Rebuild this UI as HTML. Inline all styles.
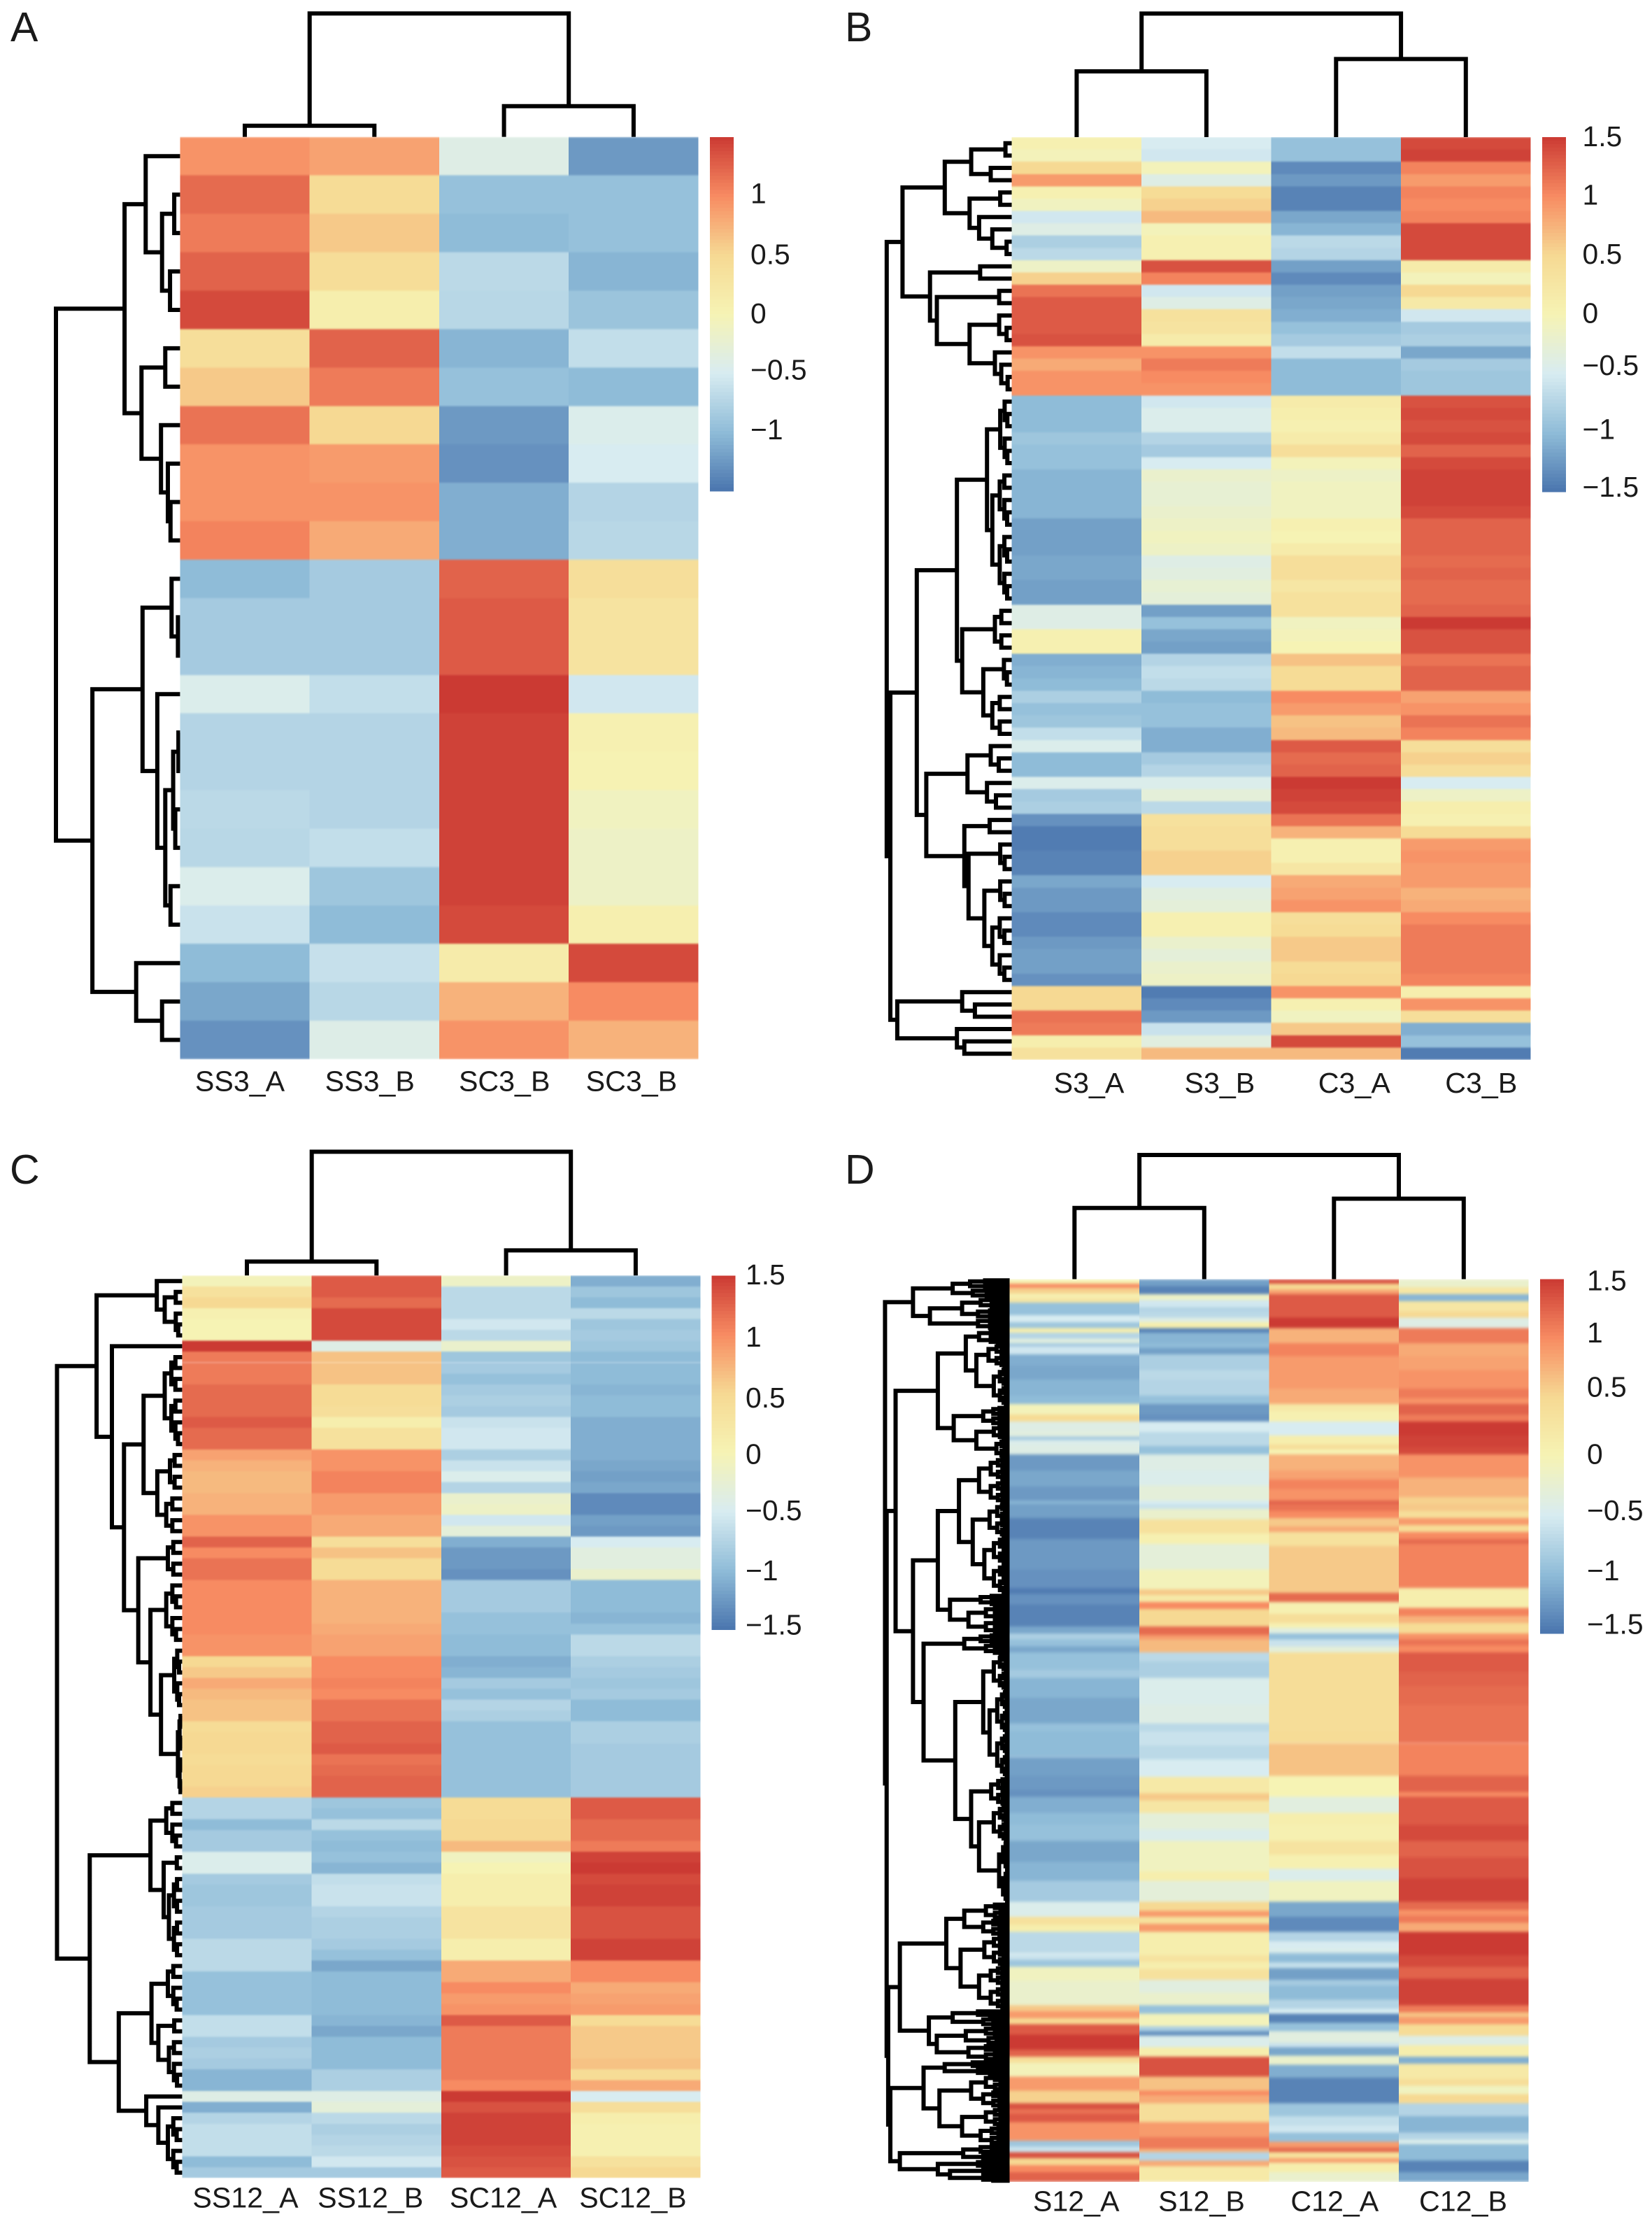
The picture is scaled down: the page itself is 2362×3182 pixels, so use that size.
<!DOCTYPE html>
<html lang="en">
<head>
<meta charset="utf-8">
<title>Four clustered expression heatmaps</title>
<style>
html,body{margin:0;padding:0;background:#fff;}
svg{display:block;}
text{font-family:"Liberation Sans",Arial,sans-serif;fill:#1a1a1a;}
</style>
</head>
<body>
<svg id="figure" xmlns="http://www.w3.org/2000/svg" width="2362" height="3182" viewBox="0 0 2362 3182">
<defs>
<filter id="softLight" x="0" y="0" width="1" height="1" color-interpolation-filters="sRGB"><feGaussianBlur stdDeviation="0 1.2"/></filter>
<filter id="softStrong" x="0" y="0" width="1" height="1" color-interpolation-filters="sRGB"><feGaussianBlur stdDeviation="0 2.2"/></filter>
</defs>
<rect x="0" y="0" width="2362" height="3182" fill="#ffffff"/>
<text x="15" y="59" font-size="59">A</text>
<text x="1208" y="59" font-size="59">B</text>
<text x="14" y="1692" font-size="59">C</text>
<text x="1208" y="1692" font-size="59">D</text>
</svg>
<script>
/* ---------- Panel A ---------- */
const aColumns = ["SS3_A","SS3_B","SC3_B","SC3_B"];
const aTicks = [1,0.5,0,-0.5,-1];
const aTickLabels = ["1","0.5","0","\u22120.5","\u22121"];
const aValues = [
[0.95,0.85,-0.4,-1.25],[1.2,0.45,-0.95,-0.95],[1.1,0.6,-1.0,-0.95],[1.25,0.42,-0.7,-1.05],
[1.4,0.1,-0.72,-0.92],[0.4,1.25,-1.05,-0.65],[0.6,1.1,-0.95,-1.0],[1.15,0.5,-1.25,-0.45],
[0.95,0.9,-1.3,-0.5],[0.95,0.95,-1.1,-0.75],[1.05,0.8,-1.1,-0.72],[-1.0,-0.85,1.25,0.4],
[-0.85,-0.85,1.3,0.3],[-0.85,-0.85,1.3,0.3],[-0.45,-0.65,1.5,-0.55],[-0.75,-0.75,1.45,0.05],
[-0.75,-0.75,1.45,0.02],[-0.7,-0.75,1.45,-0.1],[-0.72,-0.65,1.45,-0.15],[-0.45,-0.9,1.45,-0.15],
[-0.6,-1.0,1.4,0.08],[-1.0,-0.62,0.15,1.4],[-1.15,-0.72,0.75,1.0],[-1.3,-0.42,0.95,0.75]];
const aRowTree = [235,
 [105,[65,0,[34,[11,0,0],[19,0,0]]],[73,[28,0,0],[36,0,[23,0,[18,0,0]]]]],
 [166,[71,[16,0,[4,0,0]],[43,0,[28,[13,[3,0,0],[9,0,0]],[18,0,0]]]],[83,0,[34,0,0]]]];
const aColTree = [176.6,[16,0,0],[44,0,0]];

/* ---------- Panel B ---------- */
const bColumns = ["S3_A","S3_B","C3_A","C3_B"];
const bTicks = [1.5,1,0.5,0,-0.5,-1,-1.5];
const bTickLabels = ["1.5","1","0.5","0","\u22120.5","\u22121","\u22121.5"];
const bValues = [
[0.05,-0.5,-0.95,1.4],[-0.05,-0.55,-0.95,1.45],[0.5,-0.05,-1.35,1.05],[0.9,-0.4,-1.25,0.9],
[0.05,0.45,-1.4,1.05],[-0.1,0.55,-1.4,1.0],[-0.55,0.7,-1.15,1.05],[-0.4,-0.05,-1.05,1.4],
[-0.8,0.05,-0.7,1.4],[-0.7,0.05,-0.75,1.4],[-0.15,1.35,-1.2,0.15],[0.55,1.05,-1.35,-0.05],
[1.15,-0.55,-1.2,0.5],[1.3,-0.4,-1.15,0.2],[1.3,0.35,-1.1,-0.55],[1.3,0.3,-0.95,-0.85],
[1.35,0.15,-0.85,-0.8],[0.95,0.95,-0.65,-1.15],[0.8,1.1,-1.0,-0.85],[0.95,1.0,-1.0,-0.9],
[0.95,0.95,-1.0,-0.9],[-1.0,-0.55,0.15,1.35],[-1.0,-0.45,0.1,1.4],[-1.0,-0.45,0.05,1.35],
[-0.9,-0.75,0.15,1.4],[-0.95,-0.85,0.4,1.25],[-0.95,-0.5,-0.05,1.4],[-1.05,-0.2,-0.15,1.45],
[-1.05,-0.25,-0.1,1.45],[-1.05,-0.25,-0.1,1.45],[-1.05,-0.2,-0.1,1.4],[-1.2,-0.15,0.05,1.25],
[-1.2,-0.1,0.0,1.25],[-1.2,-0.15,0.15,1.25],[-1.15,-0.4,0.4,1.2],[-1.15,-0.35,0.4,1.25],
[-1.2,-0.25,0.25,1.2],[-1.2,-0.3,0.35,1.2],[-0.4,-1.2,0.35,1.25],[-0.4,-0.95,-0.1,1.5],
[0.05,-1.15,-0.05,1.35],[0.05,-1.2,0.0,1.35],[-1.1,-0.75,0.65,1.15],[-1.05,-0.65,0.45,1.25],
[-1.0,-0.7,0.45,1.25],[-0.8,-1.0,1.0,0.85],[-0.95,-0.95,0.9,0.95],[-0.9,-0.95,0.65,1.15],
[-0.65,-1.1,0.7,1.05],[-0.45,-1.1,1.3,0.4],[-1.0,-0.85,1.2,0.55],[-1.0,-0.75,1.25,0.4],
[-0.45,-0.45,1.5,-0.5],[-0.85,-0.3,1.45,-0.15],[-0.8,-0.7,1.4,0.1],[-1.3,0.35,1.15,0.05],
[-1.45,0.4,0.75,0.45],[-1.45,0.4,0.05,0.9],[-1.4,0.55,0.05,0.95],[-1.4,0.55,0.25,0.9],
[-1.15,-0.5,0.8,0.9],[-1.25,-0.35,0.85,0.75],[-1.25,-0.3,0.95,0.8],[-1.35,0.05,0.4,1.0],
[-1.35,0.05,0.45,1.1],[-1.25,-0.2,0.6,1.1],[-1.2,-0.3,0.6,1.1],[-1.2,-0.2,0.45,1.1],
[-1.3,-0.15,0.5,1.05],[0.5,-1.45,0.95,0.1],[0.5,-1.35,0.05,0.95],[1.15,-1.25,-0.1,0.4],
[1.1,-0.6,0.6,-1.1],[0.1,-0.35,1.4,-0.95],[0.35,0.7,0.7,-1.45]];
const bRowTree = [237,
 [207,
  [127,[77,[12,0,0],[40,0,0]],[80,[22,0,0],[62,0,[37,0,[10,0,0]]]]],
  [155,[60,0,0],[142,[24,0,0],[80,[24,0,[10,0,0]],[32,0,[20,0,[8,0,0]]]]]]],
 [230,
  [180,
   [104,[47,[22,6],[37,11]],[94,[32,4],[54,[15,3],[37,4]]]],
   [162,[84,[40,3],[47,0,[30,0,0]]],[90,[42,2],[82,[22,3],[52,[22,3],[37,6]]]]]],
  [217,[94,0,[70,0,0]],[104,0,[90,0,0]]]]];
const bColTree = [176.6,[94,0,0],[111.6,0,0]];

/* ---------- Panel C ---------- */
const cColumns = ["SS12_A","SS12_B","SC12_A","SC12_B"];
const cTicks = [1.5,1,0.5,0,-0.5,-1,-1.5];
const cTickLabels = ["1.5","1","0.5","0","\u22120.5","\u22121","\u22121.5"];
const cValues = [
[-0.05,1.3,-0.15,-1.1],[0.35,1.3,-0.7,-0.9],[0.5,1.2,-0.7,-1.0],[0.05,1.4,-0.7,-0.7],
[0.0,1.4,-0.55,-0.9],[0.0,1.4,-0.7,-0.85],[1.5,-0.4,-0.2,-0.9],[1.1,0.65,-0.9,-1.0],
[1.1,0.65,-0.85,-1.0],[1.1,0.65,-0.95,-1.0],[1.2,0.45,-0.85,-1.05],[1.2,0.45,-0.8,-1.0],
[1.2,0.4,-0.85,-1.0],[1.3,0.1,-0.6,-1.1],[1.2,0.35,-0.55,-1.1],[1.2,0.35,-0.55,-1.1],
[0.85,0.95,-0.8,-1.1],[0.75,0.95,-0.6,-1.15],[0.7,1.05,-0.45,-1.2],[0.7,1.05,-0.75,-1.15],
[0.75,0.9,-0.2,-1.35],[0.75,0.9,-0.15,-1.35],[0.95,0.8,-0.55,-1.2],[0.95,0.8,-0.3,-1.25],
[1.25,0.4,-1.1,-0.5],[1.0,0.65,-1.25,-0.35],[1.15,0.45,-1.25,-0.35],[1.15,0.45,-1.3,-0.2],
[1.0,0.75,-0.85,-1.0],[1.0,0.75,-0.85,-1.0],[1.0,0.75,-0.85,-1.0],[1.0,0.75,-0.95,-1.05],
[1.0,0.8,-0.95,-0.95],[0.95,0.85,-1.0,-0.7],[0.95,0.85,-1.0,-0.7],[0.5,1.0,-1.1,-0.8],
[0.6,1.0,-1.05,-0.85],[0.8,1.05,-0.85,-0.9],[0.7,1.0,-0.95,-0.85],[0.65,1.15,-0.75,-1.0],
[0.65,1.15,-0.8,-1.0],[0.45,1.25,-0.95,-0.8],[0.5,1.25,-0.95,-0.8],[0.5,1.3,-0.95,-0.85],
[0.45,1.15,-0.95,-0.85],[0.5,1.2,-0.95,-0.85],[0.5,1.25,-0.95,-0.85],[0.55,1.25,-0.95,-0.85],
[-0.75,-0.9,0.45,1.3],[-0.75,-0.95,0.45,1.3],[-1.0,-0.7,0.5,1.2],[-0.85,-0.95,0.5,1.2],
[-0.85,-1.0,0.7,1.1],[-0.45,-0.95,-0.1,1.45],[-0.45,-1.05,0.0,1.5],[-0.85,-0.65,0.1,1.4],
[-0.9,-0.6,0.1,1.45],[-0.9,-0.6,0.1,1.45],[-0.85,-0.75,0.3,1.35],[-0.85,-0.8,0.3,1.35],
[-0.85,-0.8,0.3,1.35],[-0.7,-0.85,0.1,1.45],[-0.7,-0.95,0.1,1.45],[-0.7,-1.15,0.8,1.0],
[-0.95,-1.0,0.8,1.0],[-0.95,-1.0,1.0,0.8],[-0.95,-1.0,0.9,0.85],[-0.95,-1.0,0.95,0.9],
[-0.65,-1.05,1.3,0.45],[-0.65,-1.15,1.1,0.6],[-0.85,-1.0,1.1,0.6],[-0.8,-1.0,1.1,0.6],
[-0.85,-1.0,1.1,0.65],[-1.05,-0.8,1.1,0.45],[-1.05,-0.8,1.0,0.8],[-0.4,-0.4,1.5,-0.5],
[-1.1,-0.3,1.35,0.4],[-0.75,-0.7,1.45,0.1],[-0.65,-0.8,1.45,0.05],[-0.65,-0.75,1.45,0.05],
[-0.65,-0.7,1.4,0.05],[-1.0,-0.55,1.35,0.35],[-0.85,-0.85,1.3,0.5]];
const cRowTree = [237,
 [162,
  [48,0,[33,[12,2],[12,3]]],
  [133,0,[110,[73,[33,9],[47,[23,4],[30,4]]],[83,[27,4],[60,[30,6],[40,[15,6],[8,8]]]]]]],
 [175,
  [60,[30,5],[35,[10,2],[25,8]]],
  [120,[58,[27,5],[45,[15,2],[25,5]]],[68,0,[45,0,[27,6]]]]]];
const cColTree = [177,[20,0,0],[36,0,0]];

/* ---------- Panel D (bands: [gene rows, value]) ---------- */
const dColumns = ["S12_A","S12_B","C12_A","C12_B"];
const dTicks = [1.5,1,0.5,0,-0.5,-1,-1.5];
const dTickLabels = ["1.5","1","0.5","0","\u22120.5","\u22121","\u22121.5"];
const dS12A = [[2,0],[1.8,1],[2.4,0.55],[1.8,0.05],[2,0.25],[5.5,-0.95],[3,-0.5],[2.5,-0.9],[2,0.1],[2.5,-0.75],[2,-0.35],[1.5,-0.85],[3.2,-0.55],[4.8,-1.1],[6,-1.15],[7,-1.05],[3.5,-1],[4.5,-0.05],[3,0.45],[4,-0.4],[2.5,-0.35],[1.5,-0.85],[2,-0.45],[4.2,-0.4],[6.8,-1.25],[7,-1.15],[6,-1.25],[1.5,-1.05],
[6,-1.2],[9,-1.4],[13,-1.25],[8,-1.3],[2.5,-1.45],[4.5,-1.3],[9.5,-1.4],[3,-1.15],[2.5,-0.8],[3,-0.95],[2.5,-1.15],[7.5,-0.95],[3.5,-0.85],[8.5,-1.05],[11,-1.15],[3.5,-0.95],
[11,-1],[8,-1.2],[6,-1.25],[3,-1.3],[7,-1.1],[5,-1],[7,-0.95],[9,-1.15],[8,-1.05],[9,-0.85],[6.5,-0.45],[3.5,0.35],[3,0.1],[3,-0.7],[6,-0.7],[1,-0.5],
[2,-0.6],[3,-0.9],[6,-0.1],[10.5,-0.2],[2.5,0.6],[3,0.9],[2.5,0.5],[4.5,1.3],[6.5,1.5],[3,1.25],[2.5,0.4],[6,-0.05],[6,0.9],[5.5,0.55],[2.5,1.35],[2,1.15],[3.5,1.3],[8,0.95],[2.5,-0.9],[2.5,-0.6],[2.5,1.35],[3,0.5],[3,1],[4.2,1.25]];
const dS12B = [[3,-1.2],[3.5,-1.4],[2.5,-0.15],[3,-0.55],[2,-0.75],[2.5,-0.7],[2,-0.4],[2.5,0.1],[2,-1.4],[4.5,-1.05],[2,-1],[2.7,-1.2],[6.8,-0.8],[4,-0.7],[7,-0.75],[3.5,-0.95],[4.5,-1.25],[3,-1.3],[4.5,-0.5],[6,-0.7],[3.7,-0.95],[6.8,-0.4],[6.5,-0.45],[6.5,-0.3],[1.5,-0.5],
[2,-0.6],[4.5,-0.2],[6,0.35],[4.5,0.05],[11,-0.3],[8.5,-0.05],[2.5,0.6],[3,0.2],[3,1],[7.5,0.5],[3.5,1.2],[2,0.9],[5.5,0.7],[4,-0.7],[7,-0.8],[11.5,-0.45],[8,-0.4],[3.5,-0.7],
[6,-0.6],[6,-0.7],[7.5,-0.5],[7,0.2],[3,0.6],[5.5,0.25],[7,-0.3],[5,-0.45],[13,-0.1],[4,0.1],[9,-0.3],[4,0.5],[2.5,0.9],[3,0.35],[3.5,0.9],[10,0.1],
[3,0.3],[3,0.1],[4.5,0.35],[5.5,-0.35],[5.5,-0.2],[3.5,-0.95],[5.5,-0.05],[2,-0.8],[2,-1.3],[5,-0.45],[4,0.1],[8.5,1.35],[6,0.65],[2,1],[3.5,0.8],[8,0.4],[6.5,0.9],[5,1.1],[1.5,0.75],[3.5,-0.75],[2.5,0.8],[6.7,0.2]];
const dC12A = [[2,1.35],[2.5,0.5],[2,0.85],[10,1.3],[4.5,1.5],[6.5,0.75],[5.5,1.05],[14,0.9],[6.5,0.8],[3,0.2],[4.5,0.05],[6,-0.5],[4,0.1],[2,0.4],[2.2,0],[6.8,0.75],[4,0.85],[4,1.05],[5,0.95],[1.5,1.25],
[3,1.15],[3,1],[3.5,0.6],[2.5,0.8],[6,0.35],[12,0.6],[8,0.6],[4,1.2],[5,0.05],[4,0.4],[2,0.05],[2.5,-0.35],[2.5,-0.95],[3,-0.6],[2.5,-0.3],[34,0.42],
[5,0.45],[14,0.65],[9,0],[7,-0.35],[5,0.1],[7,0.05],[6,0.3],[6,0.05],[5,-0.45],[9,-0.1],[6.5,-1.15],[6.5,-1.35],[4,-0.75],[3,-0.5],[2,-0.45],[1,-0.9],
[3,-1],[2.5,-0.65],[5,-1.2],[2.5,-0.85],[6,-1],[4,-0.75],[2,-0.5],[4,-1.4],[3.5,-0.95],[5,-0.35],[2,-0.6],[3.5,-1.15],[4,-0.2],[5.5,-1.1],[11,-1.4],[5.5,-0.9],[4,-0.65],[3,-0.55],[4,-0.95],[2.5,0.9],[2,1.2],[2.5,0.35],[2,0.85],[4,0.1],[4.2,-0.2]];
const dC12B = [[3.5,-0.2],[3,0.25],[3,-1.05],[4.5,0.25],[2.5,0.5],[4.5,-0.4],[6.5,1.1],[5.5,0.8],[6,0.85],[8,0.95],[4,1.1],[2.5,0.95],[4.5,1.25],[3,1.1],[6,1.5],[5,1.45],[3.2,1.4],[9.8,0.95],[8.5,0.75],[3,0.55],
[3,0.6],[3,0.4],[3,0.9],[3,0.45],[3,1],[2,1.2],[19,1.05],[6,0.1],[2.5,0.1],[3.5,1.05],[3,0.75],[4.5,0.45],[2.5,0.95],[2.5,1.15],[3,1],[8.5,1.3],[6,1.25],[8,1.2],[11.5,1.15],
[5,1.15],[14,1.05],[7,1.25],[2,1],[7,1.3],[5,1.3],[7,1.4],[7,1.25],[9,1.35],[10,1.45],[3.5,1.2],[2.5,0.95],[3,1.1],[4,0.8],[10,1.5],
[5,1.4],[5,1.25],[11.5,1.45],[3,1.1],[2,0.65],[3,0.9],[5,0.45],[4,-0.4],[5,0.1],[3,-1.1],[6.5,0.2],[3,0.4],[3.5,-0.1],[4,0.5],[5.5,-0.75],[7,-1.05],[3,-0.75],[2,-0.45],[7,-1],[5,-1.4],[4.2,-1.15]];
const dRowTree = [236,
 [183,[108,[75,4],[70,4]],[151,[90,[55,5],[60,4]],[60,5]]],
 [233,
  [216,
   [136,[83,[58,6],[63,[40,10],[30,17]]],[106,[50,8],[63,[30,6],[25,8]]]],
   [183,
    [136,[96,[58,20],[70,[38,14],[48,25]]],[113,[55,5],[78,[45,6],[45,6]]]],
    [163,[86,[55,4],[45,5]],[103,[50,[30,15],[38,38]],[73,[35,12],[58,[30,15],[20,27]]]]]]],
  [230,
   [208,
    [120,[86,[45,7],[50,7]],[93,[48,13],[58,19]]],
    [153,[108,[60,3],[50,4]],[138,[83,[45,4],[40,4]],[78,[45,3],[45,4]]]]],
   [226,
    [163,[123,[70,3],[60,3]],[133,[73,[45,7],[50,7]],[90,[45,8],[55,8]]]],
    [208,[88,[55,4],[50,3]],[136,[60,3],[113,[50,3],[50,3]]]]]]]];
const dColTree = [177.5,[101.7,0,0],[115,0,0]];

/* ---------- Colour scale ---------- */
const scaleStops = [-1.5,-1,-0.5,0,0.5,1,1.5];
const scaleColors = [[74,117,174],[143,188,216],[216,236,241],[246,243,180],[246,217,147],[247,139,98],[203,58,51]];

function colorOf(v){
  const c = Math.max(-1.5, Math.min(1.5, v));
  let i = 0;
  while(i < scaleStops.length - 2 && c > scaleStops[i+1]) i++;
  const t = (c - scaleStops[i]) / (scaleStops[i+1] - scaleStops[i]);
  const a = scaleColors[i], b = scaleColors[i+1];
  return 'rgb(' + [0,1,2].map(k => Math.round(a[k] + (b[k]-a[k])*t)).join(',') + ')';
}

const SVGNS = 'http://www.w3.org/2000/svg';
const root = document.getElementById('figure');

function make(tag, parent, name, props){
  const el = document.createElementNS(SVGNS, tag);
  
  
  for(const k in props) el.setAttribute(k, props[k]);
  parent.appendChild(el);
  return el;
}

function expand(node){
  if(node === 0) return 0;
  if(node.length === 2) return balanced(node[0], node[1]);
  return [node[0], expand(node[1]), expand(node[2])];
}
function balanced(h, n){
  if(n <= 1) return 0;
  const l = n >> 1;
  return [h, balanced(h*0.62, l), balanced(h*0.62, n - l)];
}
function leafCount(node){
  return node === 0 ? 1 : leafCount(node[1]) + leafCount(node[2]);
}

/* Lays out a tree; depth(h) maps a merge height to a pixel, cross(i) maps a leaf slot to a pixel */
function treePath(tree, depth, cross, horizontal){
  let idx = 0, d = '';
  (function walk(n){
    if(n === 0){ const p = {c: cross(idx + 0.5), h: 0}; idx++; return p; }
    const a = walk(n[1]), b = walk(n[2]);
    const dn = depth(n[0]);
    if(horizontal){
      d += 'M' + depth(a.h).toFixed(1) + ' ' + a.c.toFixed(1) + 'H' + dn.toFixed(1) + 'V' + b.c.toFixed(1) + 'H' + depth(b.h).toFixed(1);
    } else {
      d += 'M' + a.c.toFixed(1) + ' ' + depth(a.h).toFixed(1) + 'V' + dn.toFixed(1) + 'H' + b.c.toFixed(1) + 'V' + depth(b.h).toFixed(1);
    }
    return {c: (a.c + b.c)/2, h: n[0]};
  })(tree);
  return d;
}

function drawPanel(p){
  const g = make('g', root, 'panel-' + p.id, {});
  const colW = (p.right - p.left) / 4, H = p.bottom - p.top;
  const xOf = j => p.left + j * colW;

  /* dendrograms */
  const rowTree = expand(p.rowTree), colTree = expand(p.colTree);
  const nRows = leafCount(rowTree);
  make('path', g, 'row-dendrogram-' + p.id, {
    d: treePath(rowTree, h => p.left - h*0.755, i => p.top + i/nRows*H, true),
    fill:'none', stroke:'#000', 'stroke-width':6, 'stroke-linejoin':'miter'
  });
  make('path', g, 'column-dendrogram-' + p.id, {
    d: treePath(colTree, h => p.top - h, i => p.left + i*colW, false),
    fill:'none', stroke:'#000', 'stroke-width':6, 'stroke-linejoin':'miter'
  });

  /* heat cells */
  const heat = make('g', g, 'heatmap-' + p.id, {'shape-rendering':'crispEdges', filter: p.values ? 'url(#softLight)' : 'url(#softStrong)'});
  if(p.values){
    const band = H / p.values.length;
    p.values.forEach((row, i) => row.forEach((v, j) => {
      make('rect', heat, 'heat-cell', {
        x: xOf(j).toFixed(2), y: (p.top + i*band).toFixed(2),
        width: colW.toFixed(2), height: band.toFixed(2), fill: colorOf(v)
      });
    }));
  } else {
    p.bands.forEach((col, j) => {
      const total = col.reduce((s, b) => s + b[0], 0);
      let cum = 0;
      col.forEach(b => {
        const y0 = p.top + cum/total*H;
        cum += b[0];
        const y1 = p.top + cum/total*H;
        make('rect', heat, 'heat-band', {
          x: xOf(j).toFixed(2), y: y0.toFixed(2),
          width: colW.toFixed(2), height: (y1-y0).toFixed(2), fill: colorOf(b[1])
        });
      });
    });
  }

  /* column labels */
  p.columns.forEach((name, j) => {
    const t = make('text', g, 'column-label', {
      x: (xOf(j + 0.5) + p.labelNudge[j]).toFixed(1), y: p.labelY,
      'text-anchor':'middle', 'font-size':41.2
    });
    t.textContent = name;
  });

  /* colour bar */
  const bar = make('g', g, 'colorbar-' + p.id, {'shape-rendering':'crispEdges'});
  const barH = p.barBottom - p.top, steps = 100;
  for(let s = 0; s < steps; s++){
    make('rect', bar, 'colorbar-step', {
      x: p.barX, y: (p.top + s/steps*barH).toFixed(2), width: p.barW,
      height: (barH/steps + 0.6).toFixed(2), fill: colorOf(1.5 - (s + 0.5)/steps*3)
    });
  }
  p.ticks.forEach((v, i) => {
    const y = p.top + (1.5 - v)/3*barH + p.tickNudge[i];
    const t = make('text', g, 'colorbar-tick-label', {
      x: p.tickX, y: (y + 12).toFixed(1), 'font-size':40.8
    });
    t.textContent = p.tickLabels[i];
  });
}

drawPanel({id:'a', left:257.4, right:998.5, top:195.8, bottom:1514, values:aValues, rowTree:aRowTree, colTree:aColTree,
  columns:aColumns, labelNudge:[-7,-6.5,0.6,-3], labelY:1559.7, barX:1015, barW:34, barBottom:702, tickX:1073,
  ticks:aTicks, tickLabels:aTickLabels, tickNudge:[-1.5,1,1,-3,-1.5]});
drawPanel({id:'b', left:1446.7, right:2188.5, top:196, bottom:1515, values:bValues, rowTree:bRowTree, colTree:bColTree,
  columns:bColumns, labelNudge:[17.6,19,26,22], labelY:1562, barX:2205, barW:34, barBottom:703, tickX:2262.5,
  ticks:bTicks, tickLabels:bTickLabels, tickNudge:[1,0,0,0,-10,-3,-5]});
drawPanel({id:'c', left:260.4, right:1001.5, top:1823.4, bottom:3113.5, values:cValues, rowTree:cRowTree, colTree:cColTree,
  columns:cColumns, labelNudge:[-2,-8.6,-4,-4], labelY:3155.5, barX:1017.4, barW:34, barBottom:2329.5, tickX:1066,
  ticks:cTicks, tickLabels:cTickLabels, tickNudge:[0.5,5,8,4,0,2,-5]});
drawPanel({id:'d', left:1443.6, right:2185.5, top:1828.5, bottom:3119, bands:[dS12A,dS12B,dC12A,dC12B], rowTree:dRowTree, colTree:dColTree,
  columns:dColumns, labelNudge:[2.4,-3.8,1,-0.8], labelY:3160.5, barX:2202, barW:34, barBottom:2334.7, tickX:2269,
  ticks:dTicks, tickLabels:dTickLabels, tickNudge:[4,-6,-12.5,-1,-5,-3.5,-11]});
</script>
</body>
</html>
